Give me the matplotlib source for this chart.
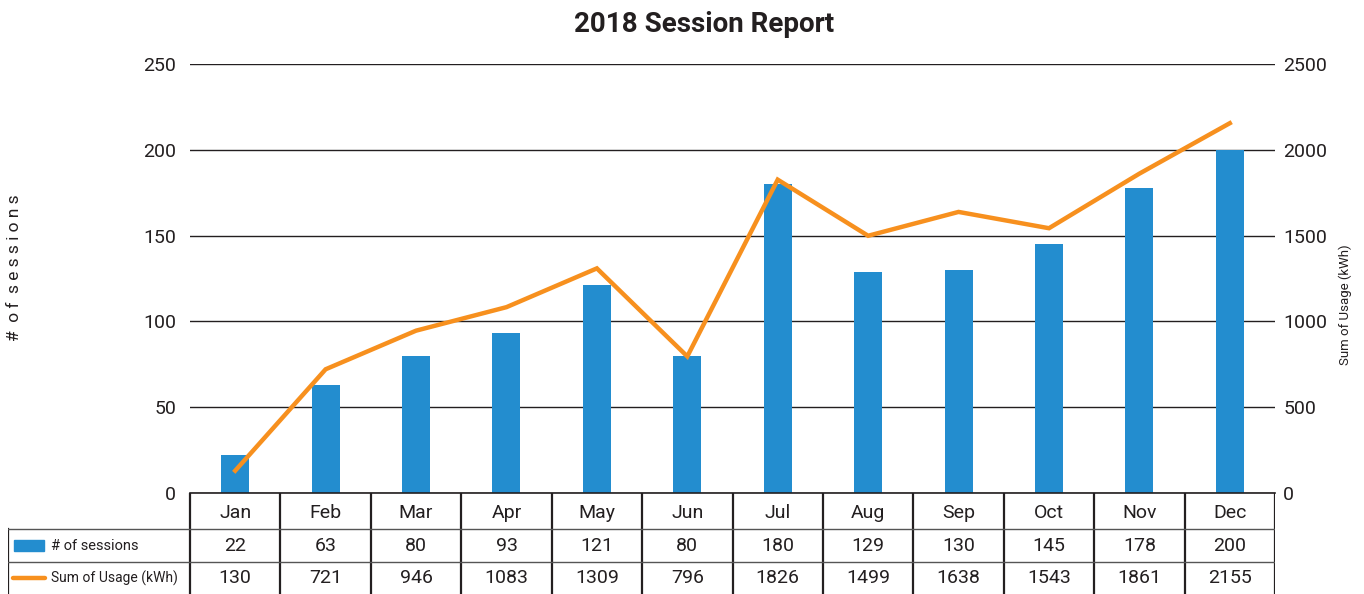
import numpy as np
import matplotlib.pyplot as plt
from matplotlib.lines import Line2D
from matplotlib.patches import Rectangle

months = ['Jan', 'Feb', 'Mar', 'Apr', 'May', 'Jun',
          'Jul', 'Aug', 'Sep', 'Oct', 'Nov', 'Dec']
sessions = [22, 63, 80, 93, 121, 80, 180, 129, 130, 145, 178, 200]
usage = [130, 721, 946, 1083, 1309, 796, 1826, 1499, 1638, 1543, 1861, 2155]

BAR_COLOR = '#238DCF'
LINE_COLOR = '#F7901E'
TXT = '#231F20'

plt.rcParams.update({
    "font.family": ["Roboto", "DejaVu Sans"],
    "text.color": TXT,
    "xtick.color": TXT,
    "ytick.color": TXT,
})

W, H = 1364, 594
fig = plt.figure(figsize=(W / 100, H / 100), dpi=100)

# plot area in pixels
x0, x1, y_top, y_bot = 190, 1275, 64, 493
ax = fig.add_axes([x0 / W, 1 - y_bot / H, (x1 - x0) / W, (y_bot - y_top) / H])

x = np.arange(len(months))
ax.bar(x, sessions, width=0.31, color=BAR_COLOR, zorder=2)
ax.set_xlim(-0.5, len(months) - 0.5)
ax.set_ylim(0, 250)
ax.set_yticks(np.arange(0, 251, 50))
ax.yaxis.grid(True, color='#231F20', linewidth=1.0)
ax.set_axisbelow(True)
ax.tick_params(axis='y', length=0, pad=10, labelsize=14)
ax.set_xticks([])
for s in ['top', 'left', 'right']:
    ax.spines[s].set_visible(False)
ax.spines['bottom'].set_color(TXT)
ax.spines['bottom'].set_linewidth(1.2)

ax2 = ax.twinx()
ax2.plot(x, usage, color=LINE_COLOR, linewidth=3.2, solid_joinstyle='miter', zorder=3)
ax2.set_ylim(0, 2500)
ax2.set_yticks(np.arange(0, 2501, 500))
ax2.tick_params(axis='y', length=0, pad=6, labelsize=14)
for s in ax2.spines.values():
    s.set_visible(False)

fig.text(15 / W, 1 - 268 / H, '#  o f  s e s s i o n s', rotation=90,
         ha='center', va='center', fontsize=12.5)
fig.text(1345 / W, 1 - 305 / H, 'Sum of Usage (kWh)', rotation=90,
         ha='center', va='center', fontsize=9.5)
fig.text(704 / W, 1 - 24 / H, '2018 Session Report', ha='center', va='center',
         fontsize=20, fontweight='bold')

# data table below the plot
tx0, ty_bot = 8, 594
col_w = (x1 - x0) / len(months)
lead = (x0 - tx0) / col_w
tab = fig.add_axes([tx0 / W, 0, (x1 - tx0) / W, (ty_bot - y_bot) / H])
tab.set_xlim(-0.5 - lead, len(months) - 0.5)
tab.set_ylim(3, 0)
tab.axis('off')
rows = [0, 1.07, 2.05, 3]

# header row verticals
for i in range(len(months) + 1):
    tab.add_line(Line2D([i - 0.5, i - 0.5], [rows[0], rows[3]], color=TXT, lw=1.6))
tab.add_line(Line2D([-0.5 - lead, -0.5 - lead], [rows[1], rows[3]], color=TXT, lw=1.6))
for r in rows[1:3]:
    tab.add_line(Line2D([-0.5 - lead, len(months) - 0.5], [r, r], color='#555555', lw=1.0))

for i, m in enumerate(months):
    tab.text(i, (rows[0] + rows[1]) / 2 + 0.05, m, ha='center', va='center', fontsize=14)
    tab.text(i, (rows[1] + rows[2]) / 2, str(sessions[i]), ha='center', va='center', fontsize=14)
    tab.text(i, (rows[2] + rows[3]) / 2, str(usage[i]), ha='center', va='center', fontsize=14)

lx = -0.5 - lead
tab.add_patch(Rectangle((lx + 0.07, (rows[1] + rows[2]) / 2 - 0.17), 0.33, 0.34,
                        color=BAR_COLOR))
tab.add_line(Line2D([lx + 0.06, lx + 0.41], [(rows[2] + rows[3]) / 2] * 2,
                    color=LINE_COLOR, lw=3.2, solid_capstyle='round'))
tab.text(lx + 0.48, (rows[1] + rows[2]) / 2, '# of sessions', ha='left', va='center',
         fontsize=10.5)
tab.text(lx + 0.48, (rows[2] + rows[3]) / 2, 'Sum of Usage (kWh)', ha='left', va='center',
         fontsize=10)

fig.savefig('out.png', dpi=100)
